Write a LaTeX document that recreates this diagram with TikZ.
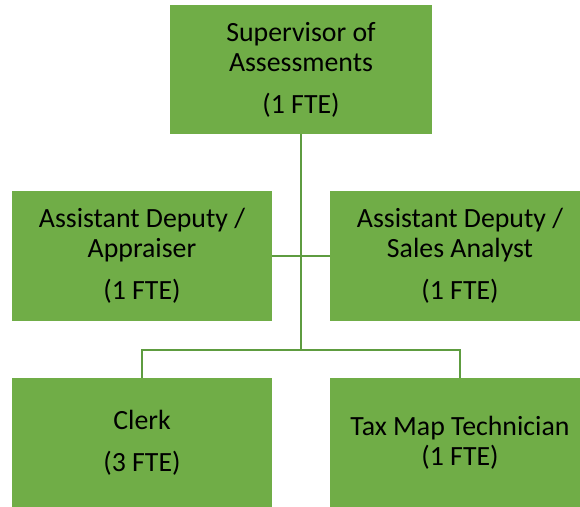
\documentclass[tikz,border=0pt]{standalone}
\usepackage{fontspec}
\setmainfont{Carlito}
\usepackage{tikz}
\definecolor{boxgreen}{HTML}{70AD47}
\definecolor{linegreen}{HTML}{5E9C40}

\begin{document}
\begin{tikzpicture}[x=1pt,y=1pt,
  orgbox/.style={fill=boxgreen,minimum width=260pt,minimum height=130pt,
    inner sep=0pt,align=center,font=\fontsize{27.8}{30}\selectfont},
  link/.style={draw=linegreen,line width=1.8pt}]
\useasboundingbox (0,0) rectangle (580,506);
\clip (0,0) rectangle (580,506);
% boxes
\node[orgbox,minimum width=262pt,minimum height=129pt] (super) at (301,436.5)
  {Supervisor of\\Assessments\\[12pt](1 FTE)};
\node[orgbox] (apprais) at (142,250) {Assistant Deputy /\\Appraiser\\[12pt](1 FTE)};
\node[orgbox] (sales) at (460,250) {Assistant Deputy /\\Sales Analyst\\[12pt](1 FTE)};
\node[orgbox] (clerk) at (142,63) {Clerk\\[12pt](3 FTE)};
\node[orgbox] (taxmap) at (460,63) {Tax Map Technician\\(1 FTE)};
% connectors
\coordinate (split) at (301,156);
\draw [link] (super.south) -- (split);
\draw [link] (apprais.east) -- (sales.west);
\draw [link] (clerk.north) |- (split) -| (taxmap.north);
\end{tikzpicture}
\end{document}
